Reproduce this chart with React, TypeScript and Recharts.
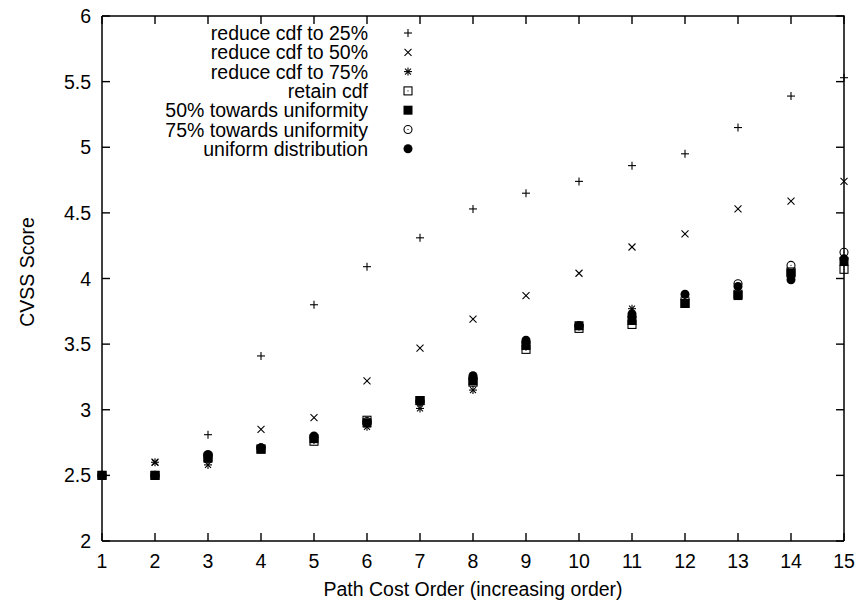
import React from 'react'
import { ScatterChart, Scatter, XAxis, YAxis, Legend } from 'recharts'

// path cost order 1..15
const order = [1, 2, 3, 4, 5, 6, 7, 8, 9, 10, 11, 12, 13, 14, 15]
const reduce25 = [2.5, 2.5, 2.81, 3.41, 3.8, 4.09, 4.31, 4.53, 4.65, 4.74, 4.86, 4.95, 5.15, 5.39, 5.53]
const reduce50 = [2.5, 2.6, 2.65, 2.85, 2.94, 3.22, 3.47, 3.69, 3.87, 4.04, 4.24, 4.34, 4.53, 4.59, 4.74]
const reduce75 = [2.5, 2.6, 2.58, 2.71, 2.77, 2.87, 3.01, 3.15, 3.48, 3.64, 3.77, 3.82, 3.88, 4.04, 4.12]
const retain = [2.5, 2.5, 2.64, 2.7, 2.76, 2.92, 3.07, 3.21, 3.46, 3.62, 3.65, 3.81, 3.88, 4.05, 4.07]
const toward50 = [2.5, 2.5, 2.63, 2.7, 2.78, 2.9, 3.07, 3.22, 3.49, 3.64, 3.68, 3.81, 3.87, 4.04, 4.13]
const toward75 = [2.5, 2.5, 2.65, 2.71, 2.79, 2.91, 3.06, 3.24, 3.51, 3.64, 3.71, 3.85, 3.96, 4.1, 4.2]
const uniform = [2.5, 2.5, 2.66, 2.71, 2.8, 2.9, 3.07, 3.26, 3.53, 3.64, 3.73, 3.88, 3.94, 3.99, 4.15]

const yTicks = [2, 2.5, 3, 3.5, 4, 4.5, 5, 5.5, 6]
const xMin = 1
const xMax = 15
const yMin = 2
const yMax = 6

const FONT = '"Liberation Sans", Arial, Helvetica, sans-serif'
const FS = 19.5
const TICK = 8

// chart layout
const W = 857
const H = 601
const MARGIN = { top: 16, right: 13, left: 0, bottom: 0 }
const Y_AXIS_W = 102
const X_AXIS_H = 60
const PLOT_W = W - MARGIN.left - MARGIN.right - Y_AXIS_W
const PLOT_H = H - MARGIN.top - MARGIN.bottom - X_AXIS_H

const drawMarker = (kind: string, cx: number, cy: number) => {
  const s = { stroke: '#000', strokeWidth: 1.1 }
  const t = { stroke: '#000', strokeWidth: 1.4 }
  switch (kind) {
    case 'plus':
      return (
        <g>
          <line x1={cx - 4} x2={cx + 4} y1={cy} y2={cy} {...s} />
          <line x1={cx} x2={cx} y1={cy - 4} y2={cy + 4} {...s} />
        </g>
      )
    case 'cross':
      return (
        <g>
          <line x1={cx - 3.5} x2={cx + 3.5} y1={cy - 3.5} y2={cy + 3.5} {...s} />
          <line x1={cx - 3.5} x2={cx + 3.5} y1={cy + 3.5} y2={cy - 3.5} {...s} />
        </g>
      )
    case 'star':
      return (
        <g>
          <line x1={cx - 4} x2={cx + 4} y1={cy} y2={cy} {...s} />
          <line x1={cx} x2={cx} y1={cy - 4} y2={cy + 4} {...s} />
          <line x1={cx - 3} x2={cx + 3} y1={cy - 3} y2={cy + 3} {...s} />
          <line x1={cx - 3} x2={cx + 3} y1={cy + 3} y2={cy - 3} {...s} />
        </g>
      )
    case 'square':
      return (
        <g>
          <rect x={cx - 4} y={cy - 4} width={8} height={8} fill="none" {...s} />
          <rect x={cx - 0.5} y={cy - 0.5} width={1} height={1} fill="#000" />
        </g>
      )
    case 'fsquare':
      return <rect x={cx - 4.5} y={cy - 4.5} width={9} height={9} fill="#000" />
    case 'circle':
      return (
        <g>
          <circle cx={cx} cy={cy} r={4} fill="none" {...s} />
          <rect x={cx - 0.5} y={cy - 0.5} width={1} height={1} fill="#000" />
        </g>
      )
    // inward tick marks on the frame
    case 'tickB':
      return <path d={`M${cx},${cy}V${cy - TICK}`} {...t} fill="none" />
    case 'tickT':
      return <path d={`M${cx},${cy}V${cy + TICK}`} {...t} fill="none" />
    case 'tickL':
      return <path d={`M${cx},${cy}H${cx + TICK}`} {...t} fill="none" />
    case 'tickR':
      return <path d={`M${cx},${cy}H${cx - TICK}`} {...t} fill="none" />
    default:
      return <circle cx={cx} cy={cy} r={4.5} fill="#000" />
  }
}

const series = [
  { name: 'reduce cdf to 25%', values: reduce25, kind: 'plus' },
  { name: 'reduce cdf to 50%', values: reduce50, kind: 'cross' },
  { name: 'reduce cdf to 75%', values: reduce75, kind: 'star' },
  { name: 'retain cdf', values: retain, kind: 'square' },
  { name: '50% towards uniformity', values: toward50, kind: 'fsquare' },
  { name: '75% towards uniformity', values: toward75, kind: 'circle' },
  { name: 'uniform distribution', values: uniform, kind: 'fcircle' },
]

const tickSets = [
  { kind: 'tickB', data: order.map((x) => ({ x, y: yMin })) },
  { kind: 'tickT', data: order.map((x) => ({ x, y: yMax })) },
  { kind: 'tickL', data: yTicks.map((y) => ({ x: xMin, y })) },
  { kind: 'tickR', data: yTicks.map((y) => ({ x: xMax, y })) },
]

const LeftTick = ({ x, y, payload }: any) => (
  <text x={x - 11} y={y + 7} textAnchor="end" fontSize={FS} fontFamily={FONT} fill="#000">
    {payload.value}
  </text>
)

const BottomTick = ({ x, y, payload }: any) => (
  <text x={x} y={y + 27} textAnchor="middle" fontSize={FS} fontFamily={FONT} fill="#000">
    {payload.value}
  </text>
)

const renderLegend = () => (
  <svg width={W} height={170} style={{ position: 'absolute', left: 0, top: 0 }}>
    {series.map((s, i) => {
      const cy = 33 + i * 19.3
      return (
        <g key={s.name}>
          <text x={368} y={cy + 7} textAnchor="end" fontSize={FS} fontFamily={FONT} fill="#000">
            {s.name}
          </text>
          {drawMarker(s.kind, 408, cy)}
        </g>
      )
    })}
  </svg>
)

export default function App() {
  return (
    <div style={{ position: 'absolute', left: 0, top: 0, width: W, height: H, background: '#fff' }}>
      <ScatterChart width={W} height={H} margin={MARGIN}>
        <XAxis
          type="number"
          dataKey="x"
          domain={[xMin, xMax]}
          ticks={order}
          height={X_AXIS_H}
          tickSize={0}
          tickMargin={0}
          tick={BottomTick}
          axisLine={{ stroke: '#000', strokeWidth: 1.5 }}
          tickLine={false}
          interval={0}
        />
        <YAxis
          type="number"
          dataKey="y"
          domain={[yMin, yMax]}
          ticks={yTicks}
          width={Y_AXIS_W}
          tickSize={0}
          tickMargin={0}
          tick={LeftTick}
          axisLine={{ stroke: '#000', strokeWidth: 1.5 }}
          tickLine={false}
          interval={0}
        />
        <Legend verticalAlign="middle" align="center" layout="horizontal" content={renderLegend} wrapperStyle={{ left: 0, top: 0, width: W, height: 170 }} />
        {tickSets.map((t) => (
          <Scatter
            key={t.kind}
            name={t.kind}
            data={t.data}
            shape={(p: any) => drawMarker(t.kind, p.cx, p.cy)}
            legendType="none"
            isAnimationActive={false}
          />
        ))}
        {series.map((s) => (
          <Scatter
            key={s.name}
            name={s.name}
            data={order.map((x, i) => ({ x, y: s.values[i] }))}
            shape={(p: any) => drawMarker(s.kind, p.cx, p.cy)}
            isAnimationActive={false}
          />
        ))}
        {/* plot frame: top and right borders */}
        <path
          d={`M${MARGIN.left + Y_AXIS_W},${MARGIN.top}H${MARGIN.left + Y_AXIS_W + PLOT_W}V${MARGIN.top + PLOT_H}`}
          fill="none"
          stroke="#000"
          strokeWidth={1.5}
        />
        <text x={27} y={272} transform="rotate(-90 27 272)" textAnchor="middle" dominantBaseline="central" fontSize={FS} fontFamily={FONT} fill="#000">
          CVSS Score
        </text>
        <text x={473} y={596} textAnchor="middle" fontSize={FS} fontFamily={FONT} fill="#000">
          Path Cost Order (increasing order)
        </text>
      </ScatterChart>
    </div>
  )
}
